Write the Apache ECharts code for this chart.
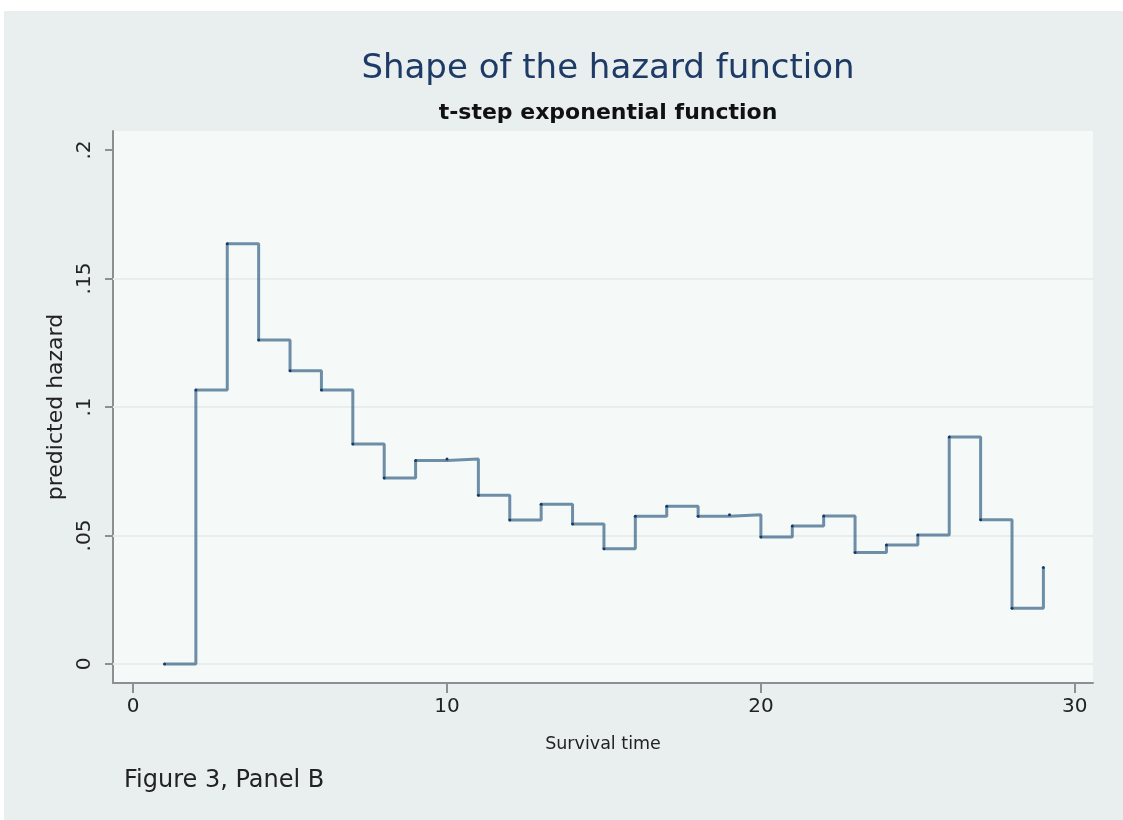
<!DOCTYPE html>
<html>
<head>
<meta charset="utf-8">
<script src="https://cdn.jsdelivr.net/npm/echarts@6/dist/echarts.min.js"></script>
<style>
  html, body { margin: 0; padding: 0; background: #ffffff; }
  #bg { position: absolute; left: 4px; top: 11px; width: 1119px; height: 809px; background: #e8efee; }
  #chart { position: absolute; left: 0; top: 0; width: 1123px; height: 820px; }
</style>
</head>
<body>
<div id="bg"></div>
<div id="chart"></div>
<script>
// Survival time (interval start) and predicted hazard for each interval
const survivalTime = [1, 2, 3, 4, 5, 6, 7, 8, 9, 10, 11, 12, 13, 14, 15, 16, 17, 18, 19, 20, 21, 22, 23, 24, 25, 26, 27, 28, 29];
const predictedHazard = [0, 0.1066, 0.1635, 0.1261, 0.1141, 0.1066, 0.0856, 0.0724, 0.0792, 0.0798,
  0.0657, 0.0560, 0.0622, 0.0545, 0.0448, 0.0575, 0.0614, 0.0575, 0.0581, 0.0494,
  0.0537, 0.0576, 0.0434, 0.0463, 0.0502, 0.0883, 0.0561, 0.0217, 0.0375];
const xTicks = [0, 10, 20, 30];
const yTicks = [0, 0.05, 0.1, 0.15, 0.2];
const yTickLabels = ['0', '.05', '.1', '.15', '.2'];
const yGridLines = [0, 0.05, 0.1, 0.15];

const chart = echarts.init(document.getElementById('chart'), null, { renderer: 'canvas' });
const FONT = 'DejaVu Sans';
const axisGray = '#8c9090';

chart.setOption({
  backgroundColor: 'transparent',
  animation: false,
  title: [
    { text: 'Shape of the hazard function', left: 603, top: 47, textAlign: 'center',
      textStyle: { fontFamily: FONT, fontSize: 34, fontWeight: 'normal', color: '#1e3a66' } },
    { text: 't-step exponential function', left: 603, top: 97, textAlign: 'center',
      textStyle: { fontFamily: FONT, fontSize: 22, fontWeight: 'bold', color: '#111111' } },
    { text: 'Figure 3, Panel B', left: 119, top: 764,
      textStyle: { fontFamily: FONT, fontSize: 24, fontWeight: 'normal', color: '#222222' } }
  ],
  grid: { left: 113, right: 30, top: 131, bottom: 137, show: true, backgroundColor: '#f5faf8', borderWidth: 0 },
  xAxis: {
    type: 'value', min: -0.64, max: 30.58,
    name: 'Survival time', nameLocation: 'middle', nameGap: 52,
    nameTextStyle: { fontFamily: FONT, fontSize: 17.5, color: '#222222' },
    axisLine: { show: true, onZero: false, lineStyle: { color: axisGray, width: 2 } },
    axisTick: { show: true, length: 10, customValues: xTicks, lineStyle: { color: axisGray, width: 2 } },
    axisLabel: { customValues: xTicks, margin: 14, fontFamily: FONT, fontSize: 20, color: '#222222',
      formatter: v => String(v) },
    splitLine: { show: false }
  },
  yAxis: {
    type: 'value', min: -0.0074, max: 0.2074,
    name: 'predicted hazard', nameLocation: 'middle', nameGap: 46, nameRotate: 90,
    nameTextStyle: { fontFamily: FONT, fontSize: 22, color: '#222222' },
    axisLine: { show: true, onZero: false, lineStyle: { color: axisGray, width: 2 } },
    axisTick: { show: true, length: 8, customValues: yTicks, lineStyle: { color: axisGray, width: 2 } },
    axisLabel: { customValues: yTicks, rotate: 90, margin: 18, fontFamily: FONT, fontSize: 20, color: '#222222',
      formatter: v => { const i = yTicks.findIndex(t => Math.abs(t - v) < 1e-9); return i >= 0 ? yTickLabels[i] : ''; } },
    splitLine: { show: false }
  },
  series: [
    {
      type: 'line',
      data: [],
      silent: true,
      z: 1,
      markLine: {
        z: 1,
        silent: true, symbol: ['none', 'none'], label: { show: false },
        lineStyle: { color: '#e9eeec', width: 2, type: 'solid' },
        data: yGridLines.map(v => ({ yAxis: v }))
      }
    },
    {
      type: 'line',
      step: 'end',
      data: survivalTime.map((t, i) => [t, predictedHazard[i]]),
      showSymbol: true,
      symbol: 'circle',
      symbolSize: 3,
      itemStyle: { color: '#163a63' },
      lineStyle: { color: 'rgba(45,90,130,0.68)', width: 3 },
      z: 10
    }
  ]
});
</script>
</body>
</html>
